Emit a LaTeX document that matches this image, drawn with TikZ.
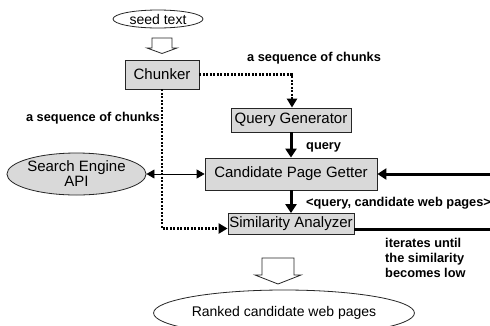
\documentclass[tikz,border=0pt]{standalone}
\usepackage{fontspec}
\setmainfont{Liberation Sans}
\usetikzlibrary{arrows.meta,shapes.geometric}
\begin{document}
\begin{tikzpicture}[x=1pt,y=-1pt,
  box/.style={draw=black!85, fill=gray!30, line width=0.8pt, inner sep=0pt, font=\fontsize{15}{17}\selectfont},
  oval/.style={ellipse, draw=black!85, line width=0.8pt, inner sep=0pt, align=center},
  lbl/.style={font=\fontsize{12.8}{15}\selectfont\bfseries, inner sep=0pt},
  dots/.style={line width=2.5pt, dash pattern=on 2pt off 1.5pt, -{Triangle[length=9pt,width=10pt]}},
  thickarrow/.style={line width=3pt, -{Triangle[length=9pt,width=11pt]}},
  hollow/.style={draw=black!85, fill=white, line width=0.8pt, line join=miter}
]
\useasboundingbox (0,0) rectangle (490,325);
\fill[white] (0,0) rectangle (490,325);
\clip (0,0) rectangle (490,325);

% nodes
\node[oval, fill=white, minimum width=90pt, minimum height=18pt, font=\fontsize{14}{16}\selectfont] (seed) at (158,19) {seed text};
\node[box, minimum width=74pt, minimum height=29pt] (chunk) at (162,74.5) {Chunker};
\node[box, minimum width=120pt, minimum height=24pt] (qg) at (291,120) {Query Generator};
\node[box, minimum width=172pt, minimum height=32pt] (cand) at (291,174) {Candidate Page Getter};
\node[box, minimum width=126pt, minimum height=21pt] (sim) at (291,224) {Similarity Analyzer};
\node[oval, fill=gray!30, minimum width=123pt, minimum height=42pt, font=\fontsize{15}{15}\selectfont] (sea) at (76.5,174) {Search Engine\\API};
\node[oval, fill=white, minimum width=228pt, minimum height=46pt, font=\fontsize{14}{16}\selectfont] (ranked) at (284,313) {Ranked candidate web pages};

% hollow block arrows
\draw[hollow] (152,38) -- (172,38) -- (172,48) -- (177,48) -- (162,53.5) -- (147,48) -- (152,48) -- cycle;
\draw[hollow] (262,258) -- (294,258) -- (294,275) -- (301,275) -- (278,284) -- (255,275) -- (262,275) -- cycle;

% labels
\node[lbl, anchor=west] (l1) at (247,58) {a sequence of chunks};
\node[lbl, anchor=east] (l2) at (160,118) {a sequence of chunks};
\node[lbl, anchor=west] (l3) at (306,147) {query};
\node[lbl, anchor=west] (l4) at (306,203) {<query, candidate web pages>};
\node[lbl, anchor=north west, align=left] (l5) at (385,238) {iterates until\\the similarity\\becomes low};

% connectors
\coordinate (rin) at (490,174);
\coordinate (rout) at (490,229);
\draw[dots] (chunk.east) -| ([xshift=1pt]qg.north);
\draw[dots] (chunk.south) |- ([yshift=-4.5pt]sim.west);
\draw[thickarrow] (qg) -- (cand);
\draw[thickarrow] (cand) -- (sim);
\draw[line width=0.8pt, {Triangle[length=8pt,width=9pt]}-{Triangle[length=8pt,width=9pt]}] (sea) -- (cand);
\draw[thickarrow] (rin) -- (cand);
\draw[line width=3pt] ([yshift=-5pt]sim.east) -- (rout);
\end{tikzpicture}
\end{document}
